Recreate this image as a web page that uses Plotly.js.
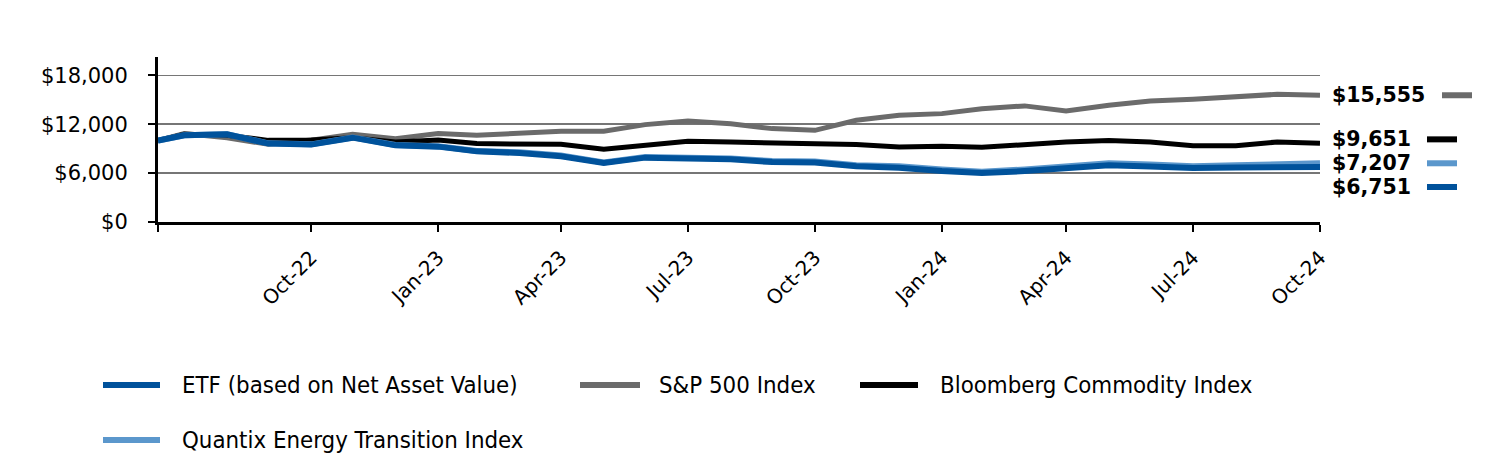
<!DOCTYPE html>
<html>
<head>
<meta charset="utf-8">
<script src="https://cdn.plot.ly/plotly-3.0.1.min.js"></script>
<style>
  html, body { margin: 0; padding: 0; background: #fff; }
  #chart { width: 1512px; height: 456px; }
</style>
</head>
<body>
<div id="chart"></div>
<script>
// ---- Data ----
const dates = [
  "2022-07-12","2022-07-31","2022-08-31","2022-09-30","2022-10-31","2022-11-30","2022-12-31",
  "2023-01-31","2023-02-28","2023-03-31","2023-04-30","2023-05-31","2023-06-30",
  "2023-07-31","2023-08-31","2023-09-30","2023-10-31","2023-11-30","2023-12-31",
  "2024-01-31","2024-02-29","2024-03-31","2024-04-30","2024-05-31","2024-06-30",
  "2024-07-31","2024-08-31","2024-09-30","2024-10-31"
];
const etfValues = [
  10000,10640,10760,9620,9500,10350,9410,
  9250,8670,8470,8060,7240,7900,
  7780,7690,7360,7290,6830,6670,
  6260,6000,6250,6600,6950,6800,
  6620,6700,6800,6751
];
const sp500Values = [
  10000,10850,10350,9530,10050,10760,10230,
  10850,10640,10930,11130,11130,11950,
  12400,12070,11460,11250,12480,13090,
  13300,13910,14250,13620,14320,14850,
  15060,15420,15670,15555
];
const bloombergValues = [
  10000,10760,10640,10020,10050,10350,9820,
  10050,9620,9620,9530,8920,9410,
  9900,9820,9700,9700,9500,9200,
  9290,9170,9530,9820,9990,9820,
  9370,9370,9820,9651
];
const quantixValues = [
  10000,10650,10780,9650,9530,10380,9450,
  9300,8720,8560,8150,7320,7980,
  7870,7800,7480,7420,6980,6830,
  6450,6180,6450,6800,7200,7050,
  6850,6950,7150,7207
];
const seriesNames = [
  "ETF (based on Net Asset Value)",
  "S&P 500 Index",
  "Bloomberg Commodity Index",
  "Quantix Energy Transition Index"
];
const tickDates = ["2022-07-12","2022-10-31","2023-01-31","2023-04-30","2023-07-31","2023-10-31","2024-01-31","2024-04-30","2024-07-31","2024-10-31"];
const tickLabels = ["","Oct-22","Jan-23","Apr-23","Jul-23","Oct-23","Jan-24","Apr-24","Jul-24","Oct-24"];
const yTickVals = [0, 6000, 12000, 18000];
const yTickText = ["$0", "$6,000", "$12,000", "$18,000"];

// ---- Styling ----
const C_ETF = "#00529b";
const C_SP = "#6b6b6b";
const C_BB = "#000000";
const C_QX = "#5b97cc";
const FONT = "DejaVu Sans, Verdana, sans-serif";

const W = 1512, H = 456;
const M = { l: 158, r: 192, t: 57, b: 234 };
const plotW = W - M.l - M.r, plotH = H - M.t - M.b;
const px2x = px => (px - M.l) / plotW;
const px2y = py => (H - M.b - py) / plotH;

function lineTrace(name, y, color, width) {
  return { type: "scatter", mode: "lines", name: name, x: dates, y: y,
           line: { color: color, width: width }, showlegend: false, hoverinfo: "skip" };
}
const traces = [
  lineTrace(seriesNames[1], sp500Values, C_SP, 5),
  lineTrace(seriesNames[2], bloombergValues, C_BB, 5),
  lineTrace(seriesNames[3], quantixValues, C_QX, 6),
  lineTrace(seriesNames[0], etfValues, C_ETF, 6)
];

const fmt = v => "$" + v.toLocaleString("en-US");
const last = a => a[a.length - 1];

// End labels (value, colour, pixel shift, segment start offset)
const endLabels = [
  { v: last(sp500Values), c: C_SP, dy: 0, seg: 122 },
  { v: last(bloombergValues), c: C_BB, dy: 4, seg: 107 },
  { v: last(quantixValues), c: C_QX, dy: 0, seg: 107 },
  { v: last(etfValues), c: C_ETF, dy: -20, seg: 107 }
];

const annotations = [];
const shapes = [];
endLabels.forEach(L => {
  annotations.push({ xref: "paper", yref: "y", x: 1, y: L.v, xshift: 10, yshift: L.dy,
    xanchor: "left", yanchor: "middle", showarrow: false, text: "<b>" + fmt(L.v) + "</b>",
    font: { family: FONT, size: 20.5, color: "#000" } });
  shapes.push({ type: "line", xref: "paper", yref: "y", xsizemode: "pixel", ysizemode: "pixel",
    xanchor: 1, yanchor: L.v, x0: L.seg, x1: L.seg + 30, y0: L.dy, y1: L.dy,
    line: { color: L.c, width: 6 } });
});

// Legend (manual, to match reference layout)
const legendItems = [
  { name: seriesNames[0], c: C_ETF, lx0: 103, lx1: 160, tx: 180, ty: 385 },
  { name: seriesNames[1], c: C_SP, lx0: 580, lx1: 640, tx: 657, ty: 385 },
  { name: seriesNames[2], c: C_BB, lx0: 860, lx1: 918, tx: 938, ty: 385 },
  { name: seriesNames[3], c: C_QX, lx0: 103, lx1: 160, tx: 180, ty: 440 }
];
legendItems.forEach(it => {
  shapes.push({ type: "line", xref: "paper", yref: "paper",
    x0: px2x(it.lx0), x1: px2x(it.lx1), y0: px2y(it.ty), y1: px2y(it.ty),
    line: { color: it.c, width: 6 } });
  annotations.push({ xref: "paper", yref: "paper", x: px2x(it.tx), y: px2y(it.ty),
    xanchor: "left", yanchor: "middle", showarrow: false, text: it.name,
    font: { family: "DejaVu Sans Condensed, DejaVu Sans, sans-serif", size: 23.8, color: "#000" } });
});

const layout = {
  width: W, height: H,
  margin: M,
  paper_bgcolor: "#fff", plot_bgcolor: "#fff",
  showlegend: false,
  xaxis: {
    type: "date",
    range: [dates[0], last(dates)],
    tickmode: "array", tickvals: tickDates, ticktext: tickLabels,
    tickangle: -45,
    ticks: "outside", ticklen: 7, tickwidth: 2, tickcolor: "#000",
    showline: true, linecolor: "#000", linewidth: 3,
    showgrid: false, zeroline: false,
    tickfont: { family: FONT, size: 20, color: "#000" },
    ticklabelstandoff: 6,
    fixedrange: true
  },
  yaxis: {
    range: [0, 20250],
    tickmode: "array", tickvals: yTickVals, ticktext: yTickText,
    ticks: "outside", ticklen: 7, tickwidth: 2, tickcolor: "#000",
    showline: true, linecolor: "#000", linewidth: 3,
    showgrid: true, gridcolor: "#767676", gridwidth: 1.5,
    zeroline: false,
    tickfont: { family: FONT, size: 21, color: "#000" },
    ticklabelstandoff: 16,
    fixedrange: true
  },
  annotations: annotations,
  shapes: shapes
};

Plotly.newPlot("chart", traces, layout, { staticPlot: true, displayModeBar: false });
</script>
</body>
</html>
